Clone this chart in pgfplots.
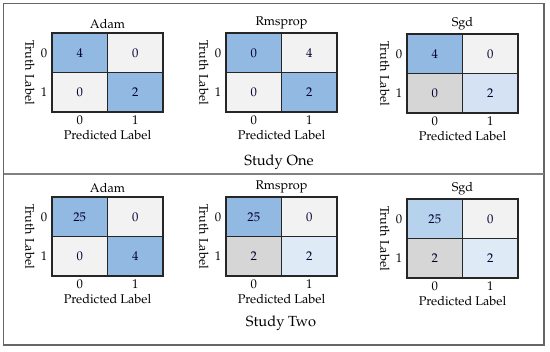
\documentclass[border=0pt]{standalone}
\usepackage[T1]{fontenc}
\usepackage{mathpazo}
\usepackage{pgfplots}
\usepackage{pgfplotstable}
\pgfplotsset{compat=1.18}

% x y value colourindex
\pgfplotstableread{
x y v c
0 0 4 5
1 0 0 0
0 1 0 0
1 1 2 5
}\adamA
\pgfplotstableread{
x y v c
0 0 0 5
1 0 4 0
0 1 0 0
1 1 2 5
}\rmsA
\pgfplotstableread{
x y v c
0 0 4 5
1 0 0 0
0 1 0 1
1 1 2 3
}\sgdA
\pgfplotstableread{
x y v c
0 0 25 5
1 0 0 0
0 1 0 0
1 1 4 5
}\adamB
\pgfplotstableread{
x y v c
0 0 25 5
1 0 0 0
0 1 2 1
1 1 2 2
}\rmsB
\pgfplotstableread{
x y v c
0 0 25 4
1 0 0 0
0 1 2 1
1 1 2 2
}\sgdB

\pgfplotsset{
  cmstyle/.style={
    scale only axis, width=83.25pt, height=59.25pt,
    xmin=-0.5, xmax=1.5, ymin=-0.5, ymax=1.5, y dir=reverse,
    xtick={0,1}, ytick={0,1},
    major tick length=0pt,
    extra x ticks={0.5}, extra y ticks={0.5},
    extra x tick labels={}, extra y tick labels={},
    extra tick style={grid=major, major grid style={black!85, line width=0.8pt}},
    axis line style={black!85, line width=0.8pt},
    axis on top,
    colormap={cm}{rgb255=(242,242,242) rgb255=(214,214,214) rgb255=(222,235,247) rgb255=(212,226,244) rgb255=(182,210,237) rgb255=(146,185,225)},
    point meta min=0, point meta max=5,
    /pgf/number format/assume math mode=true,
    tick label style={font=\fontsize{9.5}{11}\selectfont},
    xticklabel style={yshift=1pt},
    label style={font=\fontsize{9.5}{11}\selectfont},
    xlabel={Predicted Label}, ylabel={Truth Label},
    xlabel style={yshift=2.5pt},
    ylabel style={rotate=180, yshift=2pt},
    title style={font=\fontsize{9.5}{11}\selectfont, yshift=-6.5pt},
  },
}

% #1,#2: top-left corner in pixels; #3 title; #4 table
\newcommand{\cmpanel}[4]{%
  \begin{axis}[cmstyle, at={({0.75*#1 pt},{-0.75*#2 pt})}, anchor=north west, title={#3}]
    \addplot[matrix plot*, mesh/cols=2, point meta=explicit] table[x=x, y=y, meta=c] {#4};
    \addplot[only marks, mark=*, mark size=0pt, point meta=explicit,
      nodes near coords, nodes near coords align=center,
      every node near coord/.append style={font=\fontsize{9.5}{11}\selectfont, text=black!80!blue}]
      table[x=x, y=y, meta=v] {#4};
  \end{axis}%
}

\begin{document}
\begin{tikzpicture}[x=0.75pt, y=-0.75pt]
  \path (0,0) rectangle (550,351);
  \draw[black!60, line width=1.2pt] (3.5,3.5) rectangle (544,345);
  \draw[black!50, line width=0.9pt] (3.5,174) -- (544,174);

  \cmpanel{52}{33}{Adam}{\adamA}
  \cmpanel{226}{33}{Rmsprop}{\rmsA}
  \cmpanel{407}{34}{Sgd}{\sgdA}
  \cmpanel{52}{197}{Adam}{\adamB}
  \cmpanel{226}{197}{Rmsprop}{\rmsB}
  \cmpanel{407}{199}{Sgd}{\sgdB}

  \node[font=\fontsize{11}{13}\selectfont] at (279,162) {Study One};
  \node[font=\fontsize{11}{13}\selectfont] at (281,323) {Study Two};
\end{tikzpicture}
\end{document}
